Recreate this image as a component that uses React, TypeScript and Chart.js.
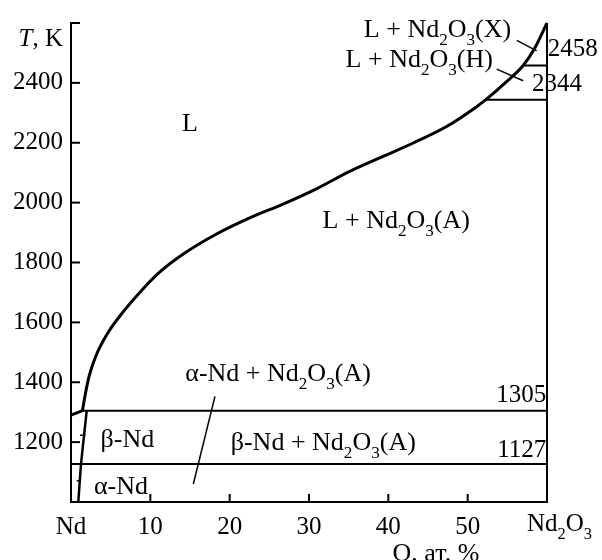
import React, { useEffect, useRef } from 'react';
import { Chart, registerables } from 'chart.js';

Chart.register(...registerables);

const FONT = '"Liberation Serif", "DejaVu Serif", serif';

// Axis ticks
const xTicks = [0, 10, 20, 30, 40, 50, 60];
const xTickLabels = ['Nd', '10', '20', '30', '40', '50', 'Nd_2O_3'];
const yTicks = [1000, 1200, 1400, 1600, 1800, 2000, 2200, 2400, 2600];
const yTickLabels = ['', '1200', '1400', '1600', '1800', '2000', '2200', '2400', ''];

// Liquidus curve (O at.% , T K)
const liquidusX = [1.45, 1.7, 2.3, 3.2, 4.6, 6.6, 8.7, 11.1, 14.2, 18.4, 22.6, 26.8, 31.0, 35.2, 39.4, 43.2, 47.4, 51.0, 52.3, 54.9, 57.0, 58.5, 60.0];
const liquidusT = [1305, 1345, 1422, 1492, 1563, 1636, 1701, 1766, 1829, 1896, 1950, 1996, 2047, 2105, 2155, 2200, 2255, 2318, 2344, 2404, 2458, 2518, 2600];

// Melting segment of Nd
const meltX = [0, 1.45];
const meltT = [1290, 1305];

// Solubility boundary of O in Nd
const solvusX = [1.98, 1.26, 0.92];
const solvusT = [1305, 1127, 1000];

// Isotherms
const iso1305X = [1.45, 60];
const iso1305T = [1305, 1305];
const iso1127X = [0, 60];
const iso1127T = [1127, 1127];
const iso2344X = [52.3, 60];
const iso2344T = [2344, 2344];
const iso2458X = [57.0, 60];
const iso2458T = [2458, 2458];

// Nd2O3 line
const oxideX = [60, 60];
const oxideT = [1000, 2600];

// Leader lines
const leaderAX = [18.15, 15.42];
const leaderAT = [1353, 1060];
const leaderXX = [56.2, 58.7];
const leaderXT = [2542, 2507];
const leaderHX = [53.66, 57.0];
const leaderHT = [2446, 2407];
const dashBX = [1.13, 1.83];
const dashBT = [1223, 1223];
const dashAX = [0.72, 1.26];
const dashAT = [1071, 1071];

// Region labels
const labelTexts = ['L', 'L + Nd_2O_3(A)', 'α-Nd + Nd_2O_3(A)', 'β-Nd + Nd_2O_3(A)', 'β-Nd', 'α-Nd', '1305', '1127', '2458', '2344', 'L + Nd_2O_3(X)', 'L + Nd_2O_3(H)'];
const labelX = [15.0, 41.0, 26.1, 31.8, 7.1, 6.3, 59.9, 59.9, 60.1, 58.1, 46.2, 43.9];
const labelT = [2267, 1943, 1432, 1201, 1212, 1057, 1360, 1179, 2516, 2399, 2582, 2482];
const labelAlign = ['center', 'center', 'center', 'center', 'center', 'center', 'right', 'right', 'left', 'left', 'center', 'center'];

const xTitle = 'O, ат. %';
const yTitleItalic = 'T';
const yTitleRest = ', K';

function pts(xs: number[], ts: number[]) {
  return xs.map((x, i) => ({ x, y: ts[i] }));
}

function parseRich(s: string) {
  const segs: { t: string; sub: boolean }[] = [];
  let buf = '';
  let i = 0;
  while (i < s.length) {
    if (s[i] === '_') {
      if (buf) segs.push({ t: buf, sub: false });
      buf = '';
      segs.push({ t: s[i + 1], sub: true });
      i += 2;
    } else {
      buf += s[i];
      i++;
    }
  }
  if (buf) segs.push({ t: buf, sub: false });
  return segs;
}

function drawRich(ctx: CanvasRenderingContext2D, s: string, x: number, yc: number, size: number, align: string) {
  const segs = parseRich(s);
  const subSize = size * 0.66;
  let total = 0;
  const widths = segs.map((sg) => {
    ctx.font = `${sg.sub ? subSize : size}px ${FONT}`;
    const w = ctx.measureText(sg.t).width;
    total += w;
    return w;
  });
  let cx = align === 'center' ? x - total / 2 : align === 'right' ? x - total : x;
  const base = yc + size * 0.33;
  ctx.textAlign = 'left';
  ctx.textBaseline = 'alphabetic';
  segs.forEach((sg, i) => {
    ctx.font = `${sg.sub ? subSize : size}px ${FONT}`;
    ctx.fillText(sg.t, cx, sg.sub ? base + size * 0.3 : base);
    cx += widths[i];
  });
}

const annotPlugin = {
  id: 'annot',
  afterDraw(chart: any) {
    const ctx: CanvasRenderingContext2D = chart.ctx;
    const xs = chart.scales.x;
    const ys = chart.scales.y;
    const area = chart.chartArea;
    ctx.save();
    ctx.strokeStyle = '#000';
    ctx.fillStyle = '#000';
    ctx.lineWidth = 2;
    // inward y ticks
    yTicks.forEach((t) => {
      if (t === 1000) return;
      const py = ys.getPixelForValue(t);
      ctx.beginPath();
      ctx.moveTo(area.left, py);
      ctx.lineTo(area.left + 9, py);
      ctx.stroke();
    });
    // inward x ticks
    xTicks.forEach((v) => {
      if (v === 0 || v === 60) return;
      const px = xs.getPixelForValue(v);
      ctx.beginPath();
      ctx.moveTo(px, area.bottom);
      ctx.lineTo(px, area.bottom - 8);
      ctx.stroke();
    });
    // x tick labels with subscripts
    xTicks.forEach((v, i) => {
      const lab = xTickLabels[i];
      if (!lab.includes('_')) return;
      const px = xs.getPixelForValue(v);
      drawRich(ctx, lab, px - 20, area.bottom + 21, 25, 'left');
    });
    // region labels
    labelTexts.forEach((s, i) => {
      const px = xs.getPixelForValue(labelX[i]);
      const py = ys.getPixelForValue(labelT[i]);
      const size = /^\d+$/.test(s) ? 25 : 26;
      drawRich(ctx, s, px, py, size, labelAlign[i]);
    });
    // x title
    drawRich(ctx, xTitle, xs.getPixelForValue(46.0), area.bottom + 50, 26, 'center');
    // y title
    const tyc = ys.getPixelForValue(2550);
    ctx.font = `${25}px ${FONT}`;
    const restW = ctx.measureText(yTitleRest).width;
    ctx.textAlign = 'right';
    ctx.textBaseline = 'alphabetic';
    ctx.fillText(yTitleRest, area.left - 8, tyc + 25 * 0.33);
    ctx.font = `italic 25px ${FONT}`;
    ctx.fillText(yTitleItalic, area.left - 8 - restW, tyc + 25 * 0.33);
    ctx.restore();
  },
};

function lineDs(data: { x: number; y: number }[], width: number, smooth = false) {
  return {
    data,
    borderColor: '#000',
    borderWidth: width,
    pointRadius: 0,
    fill: false,
    clip: false as any,
    tension: 0,
    cubicInterpolationMode: smooth ? ('monotone' as const) : ('default' as const),
  };
}

export default function App() {
  const ref = useRef<HTMLCanvasElement>(null);
  useEffect(() => {
    if (!ref.current) return;
    const chart = new Chart(ref.current, {
      type: 'line',
      data: {
        datasets: [
          lineDs(pts(liquidusX, liquidusT), 3, true),
          lineDs(pts(meltX, meltT), 3),
          lineDs(pts(solvusX, solvusT), 2.5),
          lineDs(pts(iso1305X, iso1305T), 2),
          lineDs(pts(iso1127X, iso1127T), 2),
          lineDs(pts(iso2344X, iso2344T), 2),
          lineDs(pts(iso2458X, iso2458T), 2),
          lineDs(pts(oxideX, oxideT), 2),
          lineDs(pts(leaderAX, leaderAT), 1.5),
          lineDs(pts(leaderXX, leaderXT), 1.5),
          lineDs(pts(leaderHX, leaderHT), 1.5),
          lineDs(pts(dashBX, dashBT), 1.5),
          lineDs(pts(dashAX, dashAT), 1.5),
        ] as any,
      },
      options: {
        animation: false,
        responsive: false,
        layout: { padding: { top: 22, right: 55, left: 0, bottom: 0 } },
        plugins: { legend: { display: false }, tooltip: { enabled: false } },
        scales: {
          x: {
            type: 'linear',
            min: 0,
            max: 60,
            grid: { display: false, drawTicks: false },
            border: { display: true, color: '#000', width: 2 },
            ticks: {
              stepSize: 10,
              padding: 10,
              color: '#000',
              font: { family: FONT, size: 25 },
              maxRotation: 0,
              autoSkip: false,
              callback: (v: any) => {
                const i = xTicks.indexOf(Number(v));
                if (i < 0) return '';
                const l = xTickLabels[i];
                return l.includes('_') ? '' : l;
              },
            },
            afterFit: (s: any) => {
              s.height = 58;
            },
          },
          y: {
            type: 'linear',
            min: 1000,
            max: 2600,
            grid: { display: false, drawTicks: false },
            border: { display: true, color: '#000', width: 2 },
            ticks: {
              stepSize: 200,
              padding: 8,
              color: '#000',
              font: { family: FONT, size: 25 },
              autoSkip: false,
              callback: (v: any) => {
                const i = yTicks.indexOf(Number(v));
                return i < 0 ? '' : yTickLabels[i];
              },
            },
            afterFit: (s: any) => {
              s.width = 71;
            },
          },
        },
      },
      plugins: [annotPlugin],
    });
    return () => chart.destroy();
  }, []);
  return (
    <div style={{ position: 'fixed', left: 0, top: 0, width: 602, height: 560, background: '#fff' }}>
      <canvas ref={ref} width={602} height={560} />
    </div>
  );
}
